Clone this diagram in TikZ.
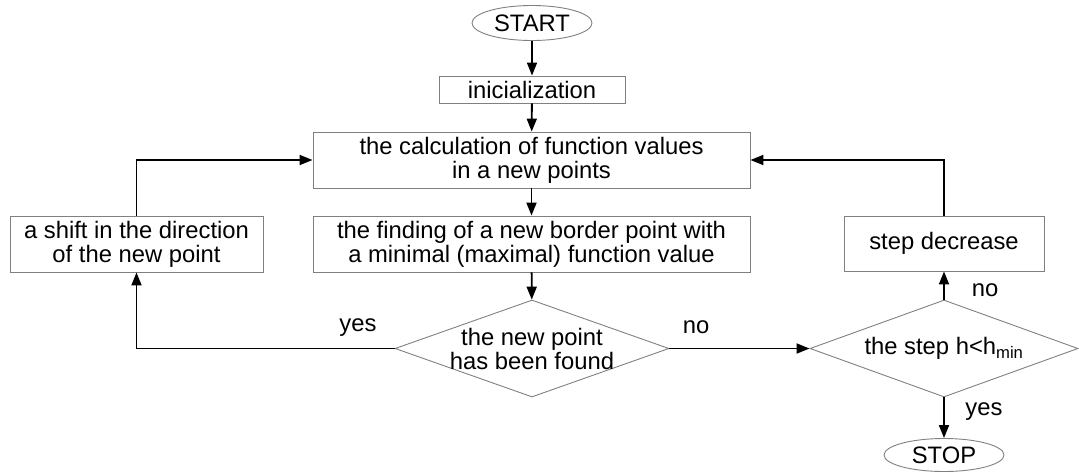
\documentclass[tikz,border=0pt]{standalone}
\usepackage{fontspec}
\setmainfont{Liberation Sans}
\usetikzlibrary{shapes.geometric,arrows.meta}
\begin{document}
\begin{tikzpicture}[x=1pt,y=-1pt,
  every node/.style={font=\fontsize{23.8}{24}\selectfont, text=black},
  box/.style={draw=black!50, line width=0.9pt, align=center, inner sep=0pt},
  term/.style={draw=black!50, line width=0.9pt, ellipse, inner sep=0pt, minimum width=120pt, minimum height=35pt},
  dec/.style={draw=black!50, line width=0.9pt, diamond, inner sep=0pt},
  conn/.style={line width=1.8pt, -{Triangle[length=13pt,width=10pt]}},
  lbl/.style={inner sep=0pt}]
\useasboundingbox (0,0) rectangle (1079,472);
\node[term] (start) at (532,23) {START};
\node[box, minimum width=186pt, minimum height=27pt] (init) at (532,89.5) {inicialization};
\node[box, minimum width=437pt, minimum height=56pt] (calc) at (531.5,160) {the calculation of function values\\in a new points};
\node[box, minimum width=437pt, minimum height=56pt] (find) at (531.5,244) {the finding of a new border point with\\a minimal (maximal) function value};
\node[box, minimum width=253pt, minimum height=56pt] (shift) at (136.5,244) {a shift in the direction\\of the new point};
\node[dec, minimum width=274pt, minimum height=97pt, label={[align=center,inner sep=0pt]center:the new point\\has been found}] (d1) at (532,348.5) {};
\node[dec, minimum width=268pt, minimum height=97pt, label={[inner sep=0pt]center:the step h<h\textsubscript{min}}] (d2) at (944,348.5) {};
\node[box, minimum width=200pt, minimum height=55pt] (sd) at (944,243.5) {step decrease};
\node[term, minimum height=33pt] (stop) at (944,455) {STOP};
\draw[conn] (start) -- (init);
\draw[conn] (init) -- (calc);
\draw[conn] (calc) -- (find);
\draw[conn] (find) -- (d1);
\draw[conn] (d1.west) -| (shift.south);
\draw[conn] (shift.north) |- (calc.west);
\draw[conn] (d1.east) -- (d2.west);
\draw[conn] (d2.north) -- (sd.south);
\draw[conn] (sd.north) |- (calc.east);
\draw[conn] (d2.south) -- (stop.north);
\node[lbl] (yes1) at (358,328) {yes};
\node[lbl] (no1) at (696,327) {no};
\node[lbl] (no2) at (985,290) {no};
\node[lbl] (yes2) at (984,412) {yes};
\end{tikzpicture}
\end{document}
